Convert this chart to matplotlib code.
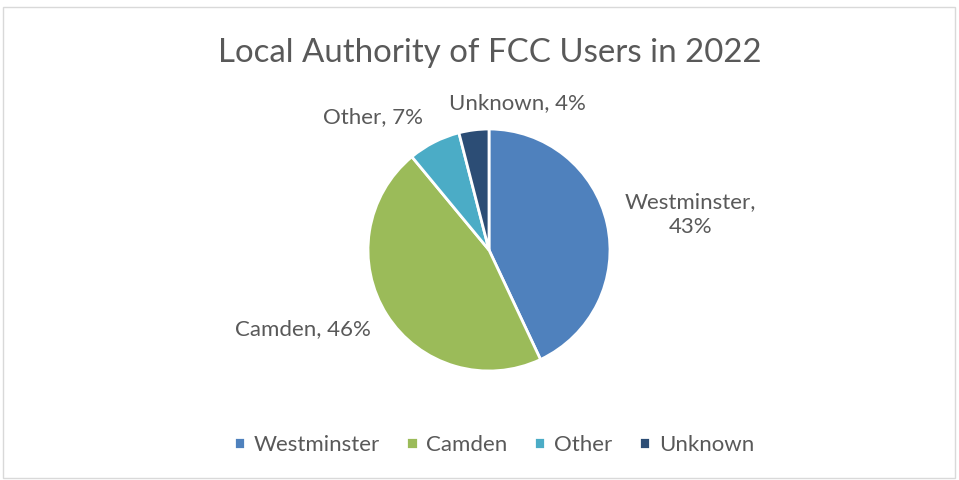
import matplotlib.pyplot as plt
from matplotlib.patches import Rectangle
import numpy as np

# Datos
categories = ['Westminster', 'Camden', 'Other', 'Unknown']
shares = [43, 46, 7, 4]
colors = ['#4F81BD', '#9BBB59', '#4BACC6', '#2C4D75']

# label positions (radius, angle in degrees) around the pie
label_pos = [(1.69, 10), (1.67, 203), (1.46, 131), (1.24, 79)]

plt.rcParams['font.family'] = ['Lato', 'DejaVu Sans']
txt = '#595959'

fig = plt.figure(figsize=(9.59, 4.8), dpi=100)
fig.patches.append(Rectangle((3 / 959, 2 / 480), 952 / 959, 471 / 480,
                             transform=fig.transFigure, fill=False,
                             edgecolor='#D9D9D9', linewidth=1))

ax = fig.add_axes([(489 - 121) / 959, (480 - 371) / 480, 242 / 959, 242 / 480])
wedges, _ = ax.pie(shares, colors=colors, startangle=90, counterclock=False,
                   wedgeprops=dict(edgecolor='white', linewidth=2))
ax.set_xlim(-1, 1)
ax.set_ylim(-1, 1)
ax.set_aspect('equal')

for name, val, (r, a) in zip(categories, shares, label_pos):
    lab = f'{name},\n{val}%' if name == 'Westminster' else f'{name}, {val}%'
    x, y = r * np.cos(np.radians(a)), r * np.sin(np.radians(a))
    ax.text(x, y, lab, ha='center', va='center', fontsize=16, color=txt,
            linespacing=1.3, clip_on=False)

fig.text(490 / 959, 1 - 53 / 480, 'Local Authority of FCC Users in 2022',
         ha='center', va='center', fontsize=23.8, color=txt)

fig.legend(wedges, categories, loc='center', bbox_to_anchor=(494 / 959, 1 - 445 / 480),
           ncol=4, frameon=False, fontsize=16, labelcolor=txt,
           handlelength=0.5, handleheight=0.5, handletextpad=0.4, columnspacing=1.2)

plt.savefig('out.png', dpi=100)
